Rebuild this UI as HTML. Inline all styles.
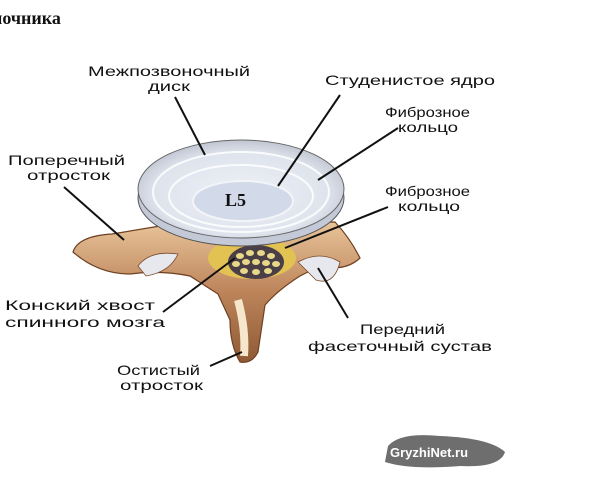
<!DOCTYPE html>
<html><head><meta charset="utf-8"><style>
html,body{margin:0;padding:0;background:#fff;}
svg{display:block}
text{font-family:"Liberation Sans",sans-serif;font-size:14px;fill:#111}
</style></head><body>
<svg width="600" height="480" viewBox="0 0 600 480">
<defs>
<radialGradient id="disc" cx="0.5" cy="0.55" r="0.6">
<stop offset="0" stop-color="#eef1f7"/><stop offset="0.7" stop-color="#dfe3ec"/><stop offset="1" stop-color="#b4bac8"/></radialGradient>
<linearGradient id="bone" x1="0" y1="0" x2="0" y2="1"><stop offset="0" stop-color="#e8c49a"/><stop offset="0.5" stop-color="#bd845a"/><stop offset="1" stop-color="#8e5a34"/></linearGradient>
</defs>
<text x="-8" y="24" style="font-family:'Liberation Serif',serif;font-weight:bold;font-size:18px">ночника</text>
<!-- vertebra -->
<path d="M73 252 Q78 236 112 234 L160 226 L335 222 Q350 238 360 258 Q345 272 320 266 L300 276 Q278 290 265 305 L258 352 Q252 364 240 362 Q230 345 230 320 L218 294 L190 276 Q160 270 130 274 Q98 274 73 252 Z" fill="url(#bone)" stroke="#6e4022" stroke-width="1.2"/>
<path d="M238 300 Q246 330 244 356" stroke="#f6e6cc" stroke-width="8" fill="none"/>
<path d="M138 266 Q150 250 178 254 Q170 272 146 276 Z" fill="#e6e8ee" stroke="#7a4a28" stroke-width="0.8"/>
<path d="M298 262 Q320 250 340 262 Q334 286 316 280 Z" fill="#e6e8ee" stroke="#7a4a28" stroke-width="0.8"/>
<ellipse cx="252" cy="258" rx="44" ry="21" fill="#e3c254"/>
<ellipse cx="256" cy="262" rx="28" ry="17" fill="#4a3f46"/>
<g fill="#e8d98a">
<ellipse cx="240" cy="256" rx="4" ry="3"/><ellipse cx="250" cy="253" rx="4" ry="3"/><ellipse cx="261" cy="253" rx="4" ry="3"/><ellipse cx="271" cy="256" rx="4" ry="3"/>
<ellipse cx="236" cy="264" rx="4" ry="3"/><ellipse cx="246" cy="262" rx="4" ry="3"/><ellipse cx="256" cy="262" rx="4" ry="3"/><ellipse cx="266" cy="263" rx="4" ry="3"/><ellipse cx="276" cy="264" rx="4" ry="3"/>
<ellipse cx="244" cy="271" rx="4" ry="3"/><ellipse cx="256" cy="272" rx="4" ry="3"/><ellipse cx="268" cy="271" rx="4" ry="3"/>
</g>
<!-- disc -->
<ellipse cx="241" cy="198" rx="103" ry="48" fill="#c3c9d6" stroke="#555" stroke-width="1"/>
<ellipse cx="241" cy="189" rx="103" ry="49" fill="url(#disc)" stroke="#666" stroke-width="1"/>
<ellipse cx="241" cy="192" rx="88" ry="40" fill="none" stroke="#fafbfd" stroke-width="2"/>
<ellipse cx="241" cy="196" rx="72" ry="31" fill="none" stroke="#fafbfd" stroke-width="2"/>
<ellipse cx="243" cy="201" rx="50" ry="20" fill="#d2d9e8" stroke="#f2f4f8" stroke-width="2"/>
<text x="225" y="206" style="font-family:'Liberation Serif',serif;font-weight:bold;font-size:18px">L5</text>
<!-- lines -->
<g stroke="#111" stroke-width="2">
<line x1="175" y1="97" x2="205" y2="155"/>
<line x1="340" y1="95" x2="278" y2="186"/>
<line x1="398" y1="128" x2="318" y2="180"/>
<line x1="64" y1="187" x2="124" y2="240"/>
<line x1="388" y1="207" x2="285" y2="248"/>
<line x1="163" y1="312" x2="235" y2="258"/>
<line x1="348" y1="318" x2="318" y2="268"/>
<line x1="210" y1="366" x2="242" y2="352"/>
</g>
<text x="88" y="76" textLength="162" lengthAdjust="spacingAndGlyphs">Межпозвоночный</text>
<text x="148" y="91" textLength="42" lengthAdjust="spacingAndGlyphs">диск</text>
<text x="325" y="85" textLength="170" lengthAdjust="spacingAndGlyphs">Студенистое ядро</text>
<text x="385" y="117" textLength="85" lengthAdjust="spacingAndGlyphs">Фиброзное</text>
<text x="398" y="132" textLength="60" lengthAdjust="spacingAndGlyphs">кольцо</text>
<text x="8" y="165" textLength="117" lengthAdjust="spacingAndGlyphs">Поперечный</text>
<text x="27" y="180" textLength="83" lengthAdjust="spacingAndGlyphs">отросток</text>
<text x="385" y="196" textLength="85" lengthAdjust="spacingAndGlyphs">Фиброзное</text>
<text x="398" y="211" textLength="62" lengthAdjust="spacingAndGlyphs">кольцо</text>
<text x="5" y="310" textLength="150" lengthAdjust="spacingAndGlyphs">Конский хвост</text>
<text x="5" y="327" textLength="160" lengthAdjust="spacingAndGlyphs">спинного мозга</text>
<text x="360" y="334" textLength="85" lengthAdjust="spacingAndGlyphs">Передний</text>
<text x="308" y="351" textLength="184" lengthAdjust="spacingAndGlyphs">фасеточный сустав</text>
<text x="117" y="375" textLength="83" lengthAdjust="spacingAndGlyphs">Остистый</text>
<text x="120" y="390" textLength="83" lengthAdjust="spacingAndGlyphs">отросток</text>
<path d="M388 446 Q400 432 440 436 Q490 438 505 452 Q500 468 460 466 Q410 470 385 462 Z" fill="#6e6e6e"/>
<text x="390" y="457" style="fill:#fff;font-weight:bold;font-size:13px">GryzhiNet.ru</text>
</svg>
</body></html>
